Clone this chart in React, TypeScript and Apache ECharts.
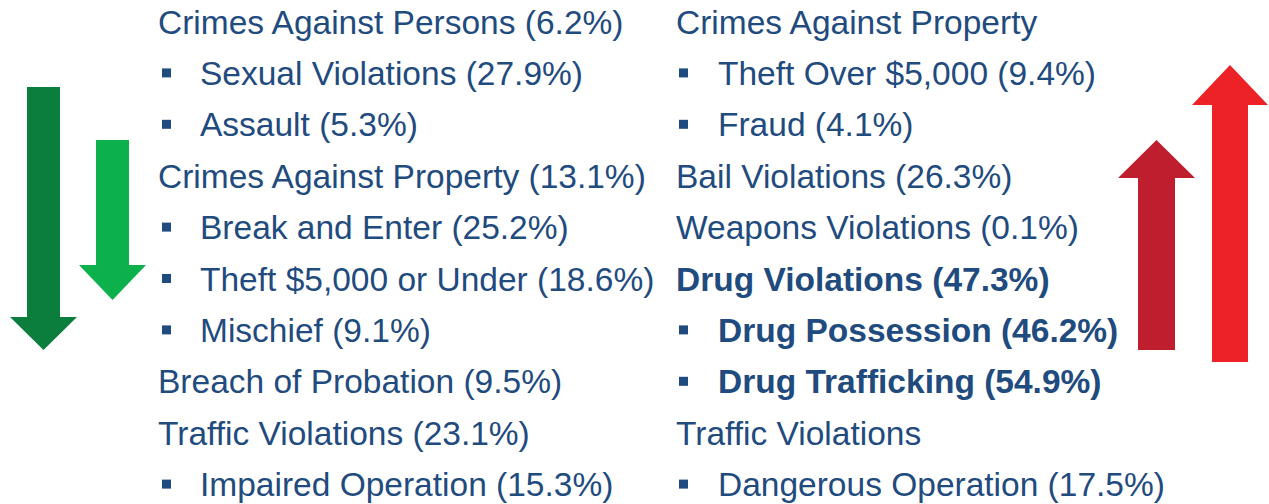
import React, { useEffect, useRef } from "react";
import * as echarts from "echarts";

// Left column (decreases)
const leftLabels = [
  "Crimes Against Persons",
  "Sexual Violations",
  "Assault",
  "Crimes Against Property",
  "Break and Enter",
  "Theft $5,000 or Under",
  "Mischief",
  "Breach of Probation",
  "Traffic Violations",
  "Impaired Operation",
];
const leftValues: (number | null)[] = [6.2, 27.9, 5.3, 13.1, 25.2, 18.6, 9.1, 9.5, 23.1, 15.3];
const leftBullet = [false, true, true, false, true, true, true, false, false, true];
const leftBold = [false, false, false, false, false, false, false, false, false, false];

// Right column (increases)
const rightLabels = [
  "Crimes Against Property",
  "Theft Over $5,000",
  "Fraud",
  "Bail Violations",
  "Weapons Violations",
  "Drug Violations",
  "Drug Possession",
  "Drug Trafficking",
  "Traffic Violations",
  "Dangerous Operation",
];
const rightValues: (number | null)[] = [null, 9.4, 4.1, 26.3, 0.1, 47.3, 46.2, 54.9, null, 17.5];
const rightBullet = [false, true, true, false, false, false, true, true, false, true];
const rightBold = [false, false, false, false, false, true, true, true, false, false];

const TEXT_COLOR = "#1F4B7E";
const FONT = "'Liberation Sans', Arial, sans-serif";

function buildColumn(
  labels: string[],
  values: (number | null)[],
  bullets: boolean[],
  bolds: boolean[],
  headerX: number,
  bulletX: number,
  itemX: number
) {
  const els: any[] = [];
  labels.forEach((lab, i) => {
    const y = 22 + i * 51.4;
    const v = values[i];
    const txt = v === null ? lab : `${lab} (${v.toFixed(1)}%)`;
    if (bullets[i]) {
      els.push({
        type: "rect",
        shape: { x: bulletX, y: y - 5, width: 9, height: 9 },
        style: { fill: TEXT_COLOR },
      });
    }
    els.push({
      type: "text",
      x: bullets[i] ? itemX : headerX,
      y,
      style: {
        text: txt,
        fill: TEXT_COLOR,
        font: `${bolds[i] ? "bold " : ""}33.5px ${FONT}`,
        textVerticalAlign: "middle",
        textAlign: "left",
      },
    });
  });
  return els;
}

function arrowDown(cx: number, shaftW: number, headW: number, top: number, headY: number, tip: number, color: string) {
  return {
    type: "polygon",
    shape: {
      points: [
        [cx - shaftW / 2, top],
        [cx + shaftW / 2, top],
        [cx + shaftW / 2, headY],
        [cx + headW / 2, headY],
        [cx, tip],
        [cx - headW / 2, headY],
        [cx - shaftW / 2, headY],
      ],
    },
    style: { fill: color },
  };
}

function arrowUp(cx: number, shaftW: number, headW: number, bottom: number, headY: number, tip: number, color: string) {
  return {
    type: "polygon",
    shape: {
      points: [
        [cx - shaftW / 2, bottom],
        [cx + shaftW / 2, bottom],
        [cx + shaftW / 2, headY],
        [cx + headW / 2, headY],
        [cx, tip],
        [cx - headW / 2, headY],
        [cx - shaftW / 2, headY],
      ],
    },
    style: { fill: color },
  };
}

export default function App() {
  const ref = useRef<HTMLDivElement>(null);
  useEffect(() => {
    if (!ref.current) return;
    const chart = echarts.init(ref.current, null, { renderer: "svg" });
    const graphic: any[] = [
      arrowDown(43.5, 33, 67, 87, 317, 350, "#0B7E3E"),
      arrowDown(112.5, 33, 67, 140, 265, 300, "#0DB14B"),
      arrowUp(1156.5, 37, 77, 350, 178, 140, "#BE1E2D"),
      arrowUp(1230, 36, 76, 362, 105, 65, "#EC2227"),
      ...buildColumn(leftLabels, leftValues, leftBullet, leftBold, 158, 162, 200),
      ...buildColumn(rightLabels, rightValues, rightBullet, rightBold, 676, 679, 718),
    ];
    chart.setOption({
      animation: false,
      backgroundColor: "#ffffff",
      graphic,
    });
    return () => chart.dispose();
  }, []);
  return (
    <div
      ref={ref}
      style={{ position: "fixed", left: 0, top: 0, width: 1269, height: 504, background: "#fff" }}
    />
  );
}
